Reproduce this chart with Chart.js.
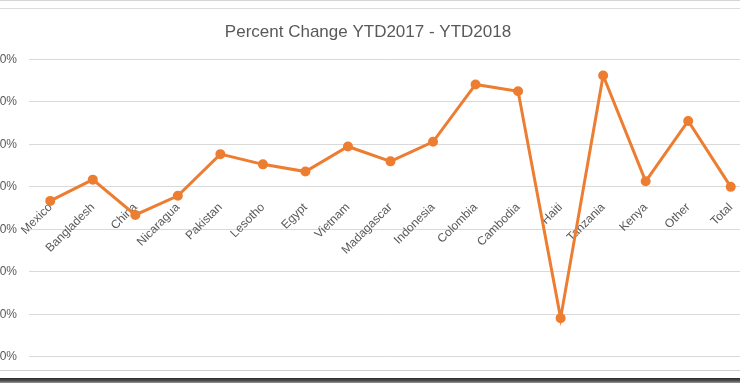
<html>
	<head>
		<script src="https://cdn.jsdelivr.net/npm/chart.js"></script>
		<style>
			body {
				margin: 0;
				width: 740px;
				height: 383px;
				overflow: hidden;
				position: relative;
				background: #fff;
			}
			#wrap {
				position: absolute;
				left: -31px;
				top: 0;
				width: 798px;
				height: 376px;
			}
			.line {
				position: absolute;
				left: 0;
				width: 740px;
				height: 1px;
				background: #d4d4d4;
			}
			#bar {
				position: absolute;
				left: 0;
				top: 378px;
				width: 740px;
				height: 5px;
				background: linear-gradient(#2b2b2b, #555 60%, #999);
			}
		</style>
	</head>
	<body>
		<div class="line" style="top:0px"></div>
		<div class="line" style="top:8px; background:#dcdcdc"></div>
		<div id="wrap"><canvas id="chart"></canvas></div>
		<div class="line" style="top:370px; background:#d0d0d0"></div>
		<div id="bar"></div>

		<script>
			const countries = ['Mexico', 'Bangladesh', 'China', 'Nicaragua', 'Pakistan', 'Lesotho', 'Egypt', 'Vietnam',
				'Madagascar', 'Indonesia', 'Colombia', 'Cambodia', 'Haiti', 'Tanzania', 'Kenya', 'Other', 'Total'];
			const pctChange = [6.7, 11.7, 3.4, 7.9, 17.7, 15.3, 13.6, 19.5, 16.0, 20.6, 34.1, 32.5, -20.9, 36.2, 11.3, 25.5, 10.0];
			const yMin = -30;
			const yMax = 40;
			const yStep = 10;

			const grey = '#595959';
			const orange = '#ED7D31';

			const ctx = document.getElementById('chart').getContext('2d');
			const chart = new Chart(ctx, {
				type: 'line',
				data: {
					labels: countries,
					datasets: [{
						label: 'Percent Change',
						data: pctChange,
						borderColor: orange,
						backgroundColor: orange,
						borderWidth: 3,
						pointRadius: 3.5,
						pointHoverRadius: 4,
						tension: 0
					}]
				},
				options: {
					responsive: true,
					maintainAspectRatio: false,
					animation: false,
					layout: { padding: { top: 0, right: 15, bottom: 8, left: 15 } },
					plugins: {
						legend: { display: false },
						tooltip: { enabled: false },
						title: {
							display: true,
							text: 'Percent Change YTD2017 - YTD2018',
							color: grey,
							font: { family: 'Liberation Sans', size: 17, weight: 'normal' },
							padding: { top: 22, bottom: 17 }
						}
					},
					scales: {
						x: {
							offset: true,
							position: { y: 0 },
							grid: { display: false, drawTicks: false },
							border: { display: false },
							ticks: {
								color: grey,
								font: { family: 'Liberation Sans', size: 12 },
								autoSkip: false,
								minRotation: 45,
								maxRotation: 45,
								padding: -29
							}
						},
						y: {
							min: yMin,
							max: yMax,
							afterFit: (axis) => { axis.width = 45; },
							grid: { color: '#d9d9d9', drawTicks: false },
							border: { display: false },
							ticks: {
								stepSize: yStep,
								color: grey,
								padding: 12,
								font: { family: 'Liberation Sans', size: 12 },
								callback: v => v.toFixed(2) + '%'
							}
						}
					}
				}
			});
		</script>
	</body>
</html>
